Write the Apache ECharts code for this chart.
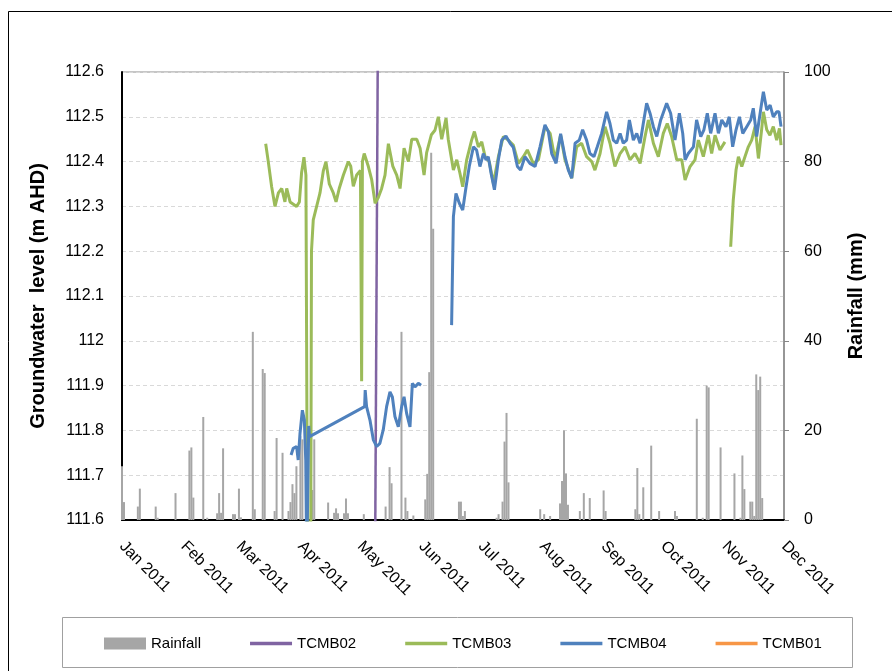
<!DOCTYPE html>
<html lang="en">
<head>
    <meta charset="UTF-8">
    <title>Groundwater level and rainfall</title>
    <script src="https://cdn.jsdelivr.net/npm/echarts@6/dist/echarts.min.js"></script>
</head>
<body style="margin: 0">
<div id="main" style="width: 892px;height: 671px"></div>
</body>

<script>

    // day of year 2011 (0 = 1 Jan) and values
    const monthLabels = ['Jan 2011', 'Feb 2011', 'Mar 2011', 'Apr 2011', 'May 2011', 'Jun 2011',
        'Jul 2011', 'Aug 2011', 'Sep 2011', 'Oct 2011', 'Nov 2011', 'Dec 2011'];

    const rainDays = [0, 1, 8, 9, 17, 18, 27, 34, 35, 36, 41, 43, 48, 49, 50, 51, 56, 57, 59, 60,
        66, 67, 71, 72, 77, 78, 81, 84, 85, 86, 87, 88, 90, 91, 96, 97, 104, 107, 108, 109,
        112, 113, 114, 122, 133, 135, 136, 141, 143, 144, 147, 153, 154, 155, 156, 157,
        170, 171, 172, 173, 189, 190, 192, 193, 194, 195, 211, 213, 216, 221, 222, 223, 224, 225,
        231, 233, 236, 243, 244, 259, 260, 261, 263, 267, 271, 279, 280, 290, 293, 295, 296,
        302, 309, 312, 313, 314, 317, 318, 319, 320, 321, 322, 323];
    const rainMm = [12, 4, 3, 7, 3, 0.5, 6, 15.5, 16.2, 5, 23, 0.5, 1.5, 6, 1.6, 16, 1.3, 1.3, 7, 0.6,
        42, 2.4, 33.7, 32.8, 2, 18.3, 15, 2, 4, 8, 6, 12, 18.7, 18, 6.7, 18, 3.9, 1.6, 2.6, 1.5,
        1.5, 4.8, 1.5, 1.3, 3, 11.8, 8.2, 42, 5, 2, 1, 4.6, 10.3, 33, 82, 65,
        4.1, 4.1, 0.9, 2, 0.5, 1.3, 4.1, 17.5, 23.9, 8.4, 2.4, 1.3, 0.9, 3.7, 8.7, 20, 10.4, 3.4,
        2, 6, 4.9, 6.6, 2, 2.4, 11.6, 1.3, 7.3, 16.6, 2, 2, 0.9, 22.6, 0.5, 30, 29.6,
        16.2, 10.4, 0.5, 14.4, 6.9, 4.1, 4.1, 0.9, 32.5, 29, 32, 4.9];

    const tcmb02Days = [127.68, 129.12];
    const tcmb02Level = [111.5, 112.7];

    const tcmb03Days = [72.5, 73.8, 75.5, 77.2, 78.9, 80.6, 82.2, 83.1, 84.8, 88.1, 89.5, 90.6, 91.8, 92.8,
        93.6, 95.2, 95.6, 96.5, 98.2, 99.9, 101.6, 102.9, 104.6, 106.6, 108, 109.6, 111.7, 114.2, 115.4,
        116.7, 118.4, 120.3, 120.9, 121.3, 122.2, 124.3, 126, 127.7, 129.3, 131, 132.7, 134.4, 136.6,
        138.6, 140.3, 142.3, 144.5, 146.2, 148.7, 150.4, 152.4, 153.7, 156.1, 157.9, 159.6, 161.3, 163.5,
        164.6, 167.2, 168.9, 170.5, 171.9, 173.9, 176.4, 177.8, 179.8, 181.5, 183.2, 185.3, 187.4, 189.9,
        192.4, 194.9, 197.4, 200, 202.5, 204.5, 207.5, 210.1, 213.4, 216, 218.5, 221.3, 223.5, 226.9,
        229.4, 231.9, 234.4, 237, 238.6, 241.2, 243.7, 246.2, 248.7, 251.3, 253.8, 256.3, 258.8, 261.4,
        263.9, 265.6, 268.1, 270.6, 273.1, 275.1, 277.3, 279.9, 282.4, 284.1, 286.6, 289.1, 290.8, 293.3,
        295.8, 297.5, 299.2, 301.7, 304.2, 305.5,
        307.1, 308.4, 309.8, 311, 312.7, 314.3, 316, 317.7, 319.4, 321.1, 322.7, 323.6, 325.3, 326.9,
        328.6, 330.3, 331.7, 332.5];
    const tcmb03Level = [112.44, 112.40, 112.344, 112.30, 112.33, 112.34, 112.31, 112.34, 112.31, 112.30, 112.31, 112.375, 112.41, 112.37,
        111.5, 111.5, 112.2, 112.27, 112.30, 112.33, 112.38, 112.40, 112.35, 112.33, 112.31, 112.34, 112.37, 112.40, 112.39,
        112.345, 112.37, 112.38, 111.91, 112.40, 112.418, 112.389, 112.359, 112.307, 112.32, 112.34, 112.37, 112.44, 112.39,
        112.37, 112.34, 112.43, 112.40, 112.45, 112.45, 112.43, 112.37, 112.42, 112.46, 112.47, 112.50, 112.45, 112.497,
        112.45, 112.381, 112.404, 112.374, 112.344, 112.404, 112.448, 112.467, 112.433, 112.444, 112.411, 112.40, 112.351, 112.411,
        112.456, 112.448, 112.437, 112.396, 112.411, 112.426, 112.396, 112.404, 112.478, 112.463, 112.404, 112.459, 112.404, 112.363,
        112.433, 112.441, 112.411, 112.40, 112.381, 112.418, 112.478, 112.441, 112.389, 112.418, 112.433, 112.404, 112.418, 112.396,
        112.456, 112.493, 112.441, 112.411, 112.463, 112.485, 112.456, 112.404, 112.404, 112.359, 112.389, 112.404, 112.448, 112.411,
        112.459, 112.418, 112.459, 112.426, 112.444, null,
        112.21, 112.314, 112.381, 112.411, 112.389, 112.411, 112.433, 112.448, 112.478, 112.407, 112.471, 112.511, 112.471, 112.459,
        112.478, 112.448, 112.474, 112.437];

    const tcmb04Days = [85.3, 86.4, 88.1, 88.9, 89.8, 91, 92, 92.7, 93.2, 93.7, 94.2, 94.6, 122.4, 122.7, 123.4, 125.1,
        126.8, 128.5, 130.1, 131.8, 133.5, 135.2, 136.4, 137.7, 139.4, 141.1, 142.3, 143.6, 145.3, 146.5,
        147.8, 149.5, 150.9, 158,
        166.3, 167.2, 168.5, 170.2, 171.9, 173.6, 175.2, 177.3, 178.9, 180.6, 182.3, 183.7, 184.8, 186.2,
        187.9, 189.9, 191.6, 193.7, 195.8, 197.4, 199.5, 201.1, 203.3, 205.8, 208.4, 210.9, 213.4, 215.1,
        216.8, 219, 221.3, 223.5, 225.2, 226.9, 228.6, 230.7, 232.4, 234.4, 236.1, 238.1, 239.8, 242,
        244.5, 246.2, 247.9, 249.6, 251.3, 252.9, 254.6, 256, 258, 259.7, 261.4, 263, 264.7, 266.4,
        268.1, 269.8, 271.8, 274.8, 276.8, 279, 281.2, 282.9, 284.1, 285.7, 288.3, 289.9, 292, 293.6,
        295.3, 297, 299.2, 300.9, 302.6, 304.7, 306.4, 308.1, 309.8, 311.5, 313.2, 315.2, 317.2, 318.5,
        320.2, 322.2, 323.6, 325.3, 327, 328.6, 330.3, 331.5, 332.5];
    const tcmb04Level = [111.745, 111.760, 111.764, 111.734, 111.793, 111.845, 111.823, 111.734, 111.5, 111.5, 111.81, 111.786, 111.853, 111.89, 111.853, 111.823,
        111.779, 111.764, 111.771, 111.801, 111.853, 111.886, 111.875, 111.831, 111.808, 111.853, 111.875, 111.838, 111.808, 111.905,
        111.897, 111.905, 111.901, null,
        112.035, 112.277, 112.329, 112.307, 112.292, 112.344, 112.389, 112.433, 112.426, 112.389, 112.418, 112.404, 112.411, 112.374,
        112.337, 112.404, 112.448, 112.457, 112.441, 112.432, 112.389, 112.381, 112.411, 112.396, 112.389, 112.433, 112.482, 112.467,
        112.418, 112.396, 112.462, 112.411, 112.381, 112.363, 112.441, 112.448, 112.471, 112.448, 112.418, 112.411, 112.433, 112.463,
        112.511, 112.485, 112.448, 112.441, 112.463, 112.441, 112.448, 112.493, 112.448, 112.463, 112.441, 112.485, 112.53, 112.508,
        112.478, 112.456, 112.493, 112.53, 112.508, 112.448, 112.508, 112.463, 112.404, 112.418, 112.433, 112.493, 112.456, 112.471,
        112.508, 112.463, 112.508, 112.463, 112.493, 112.478, 112.50, 112.433, 112.471, 112.50, 112.463, 112.478, 112.493, 112.519,
        112.456, 112.515, 112.556, 112.515, 112.526, 112.50, 112.511, 112.511, 112.478];

    const tcmb01Days = [];
    const tcmb01Level = [];

    const T0 = Date.UTC(2011, 0, 1);
    const DAY = 86400000;
    const monthStarts = monthLabels.map((m, i) => (Date.UTC(2011, i, 1) - T0) / DAY);
    const pairs = (days, vals) => days.map((d, i) => [d, vals[i]]);

    const font = 'Liberation Sans, Arial, sans-serif';
    const lineIcon = 'path://M0,0 L42,0 L42,3.5 L0,3.5 Z';

    const chart = echarts.init(document.getElementById('main'));

    let option = {
        animation: false,
        backgroundColor: '#fff',
        textStyle: {fontFamily: font},
        graphic: [
            {
                type: 'rect',
                shape: {x: 8.5, y: 11.5, width: 900, height: 700},
                style: {fill: 'none', stroke: '#000', lineWidth: 1},
                silent: true
            },
            {
                type: 'rect',
                shape: {x: 62.5, y: 617.5, width: 790, height: 50},
                style: {fill: 'none', stroke: '#a0a0a0', lineWidth: 1},
                silent: true
            }
        ],
        grid: {
            left: 122,
            right: 108,
            top: 72,
            bottom: 151,
            show: true,
            borderColor: '#8c8c8c',
            borderWidth: 1
        },
        legend: {
            left: 99,
            top: 631,
            itemWidth: 42,
            itemHeight: 12,
            itemGap: 49,
            textStyle: {fontSize: 15, color: '#000', fontFamily: font},
            data: [
                {name: 'Rainfall', icon: 'rect'},
                {name: 'TCMB02', icon: lineIcon},
                {name: 'TCMB03', icon: lineIcon},
                {name: 'TCMB04', icon: lineIcon},
                {name: 'TCMB01', icon: lineIcon}
            ]
        },
        xAxis: {
            type: 'value',
            min: 0,
            max: 334,
            axisLine: {lineStyle: {color: '#000', width: 2}},
            axisTick: {show: false},
            splitLine: {show: false},
            axisLabel: {
                customValues: monthStarts,
                rotate: -45,
                margin: 24,
                fontSize: 16,
                color: '#000',
                fontFamily: font,
                formatter: function (value) {
                    return monthLabels[monthStarts.indexOf(value)];
                }
            }
        },
        yAxis: [
            {
                type: 'value',
                name: 'Groundwater  level (m AHD)',
                nameLocation: 'middle',
                nameGap: 74,
                nameTextStyle: {fontSize: 20, fontWeight: 'bold', color: '#000', fontFamily: font},
                min: 111.6,
                max: 112.6,
                interval: 0.1,
                axisLine: {show: true, lineStyle: {color: '#000', width: 2}},
                axisTick: {show: false},
                axisLabel: {fontSize: 16, color: '#000', margin: 18, fontFamily: font},
                splitLine: {lineStyle: {color: '#d9d9d9', type: [4, 3], width: 1}}
            },
            {
                type: 'value',
                name: 'Rainfall (mm)',
                nameLocation: 'middle',
                nameGap: 62,
                nameTextStyle: {fontSize: 20, fontWeight: 'bold', color: '#000', fontFamily: font},
                min: 0,
                max: 100,
                interval: 20,
                axisLine: {show: true, lineStyle: {color: '#868686', width: 1.5}},
                axisTick: {show: true, length: 5, lineStyle: {color: '#868686'}},
                axisLabel: {fontSize: 16, color: '#000', margin: 20, fontFamily: font},
                splitLine: {show: false}
            }
        ],
        series: [
            {
                name: 'Rainfall',
                type: 'bar',
                yAxisIndex: 1,
                barWidth: 2,
                itemStyle: {color: '#a6a6a6'},
                data: pairs(rainDays, rainMm)
            },
            {
                name: 'TCMB02',
                type: 'line',
                symbol: 'none',
                lineStyle: {color: '#8064a2', width: 2.5},
                itemStyle: {color: '#8064a2'},
                data: pairs(tcmb02Days, tcmb02Level)
            },
            {
                name: 'TCMB03',
                type: 'line',
                symbol: 'none',
                lineStyle: {color: '#9bbb59', width: 3},
                itemStyle: {color: '#9bbb59'},
                data: pairs(tcmb03Days, tcmb03Level)
            },
            {
                name: 'TCMB04',
                type: 'line',
                symbol: 'none',
                lineStyle: {color: '#4f81bd', width: 3},
                itemStyle: {color: '#4f81bd'},
                data: pairs(tcmb04Days, tcmb04Level)
            },
            {
                name: 'TCMB01',
                type: 'line',
                symbol: 'none',
                lineStyle: {color: '#f79646', width: 3},
                itemStyle: {color: '#f79646'},
                data: pairs(tcmb01Days, tcmb01Level)
            }
        ]
    };
    chart.setOption(option);

</script>

</html>
